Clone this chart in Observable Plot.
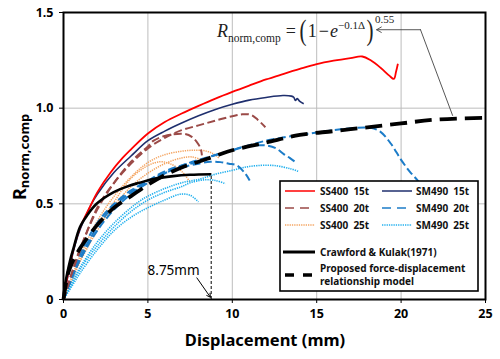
<!DOCTYPE html>
<html><head><meta charset="utf-8">
<script src="https://cdn.jsdelivr.net/npm/d3@7"></script>
<script src="https://cdn.jsdelivr.net/npm/@observablehq/plot@0.6"></script>
<style>
body{margin:0;background:#fff;}
#wrap{position:relative;width:500px;height:359px;}
#formula{position:absolute;left:217px;top:12px;font-family:"Liberation Serif",serif;color:#222;white-space:nowrap;line-height:1;}
#formula span{display:inline-block;}
</style></head><body><div id="wrap"></div>
<script>
// ---- tick values ----
const xTicks = [0, 5, 10, 15, 20, 25];
const yTicks = [0, 0.5, 1.0, 1.5];
const yTickLabels = ["0", "0.5", "1.0", "1.5"];
const xGrid = [5, 10, 15, 20];
const yGrid = [0.5, 1.0];

// ---- test curves [displacement mm, R_norm,comp] ----
const ss400_15t = [[0,0],[0.3,0.15],[0.7,0.3],[1,0.38],[1.6,0.49],[2,0.56],[2.8,0.665],[3.5,0.74],[4,0.785],[5,0.868],[6,0.928],[7,0.972],[8,1.012],[9,1.05],[10,1.085],[11,1.118],[12,1.15],[13,1.178],[14,1.205],[15,1.23],[16,1.248],[17,1.262],[17.7,1.27],[18.2,1.25],[18.8,1.21],[19.3,1.17],[19.57,1.153],[19.7,1.19],[19.81,1.232]];
const sm490_15t = [[0,0],[0.3,0.14],[0.7,0.29],[1,0.37],[1.6,0.49],[2,0.55],[3,0.665],[4,0.75],[5,0.83],[6,0.88],[7,0.922],[8,0.96],[9,0.993],[10,1.02],[11,1.042],[12,1.056],[13,1.066],[13.5,1.063],[13.64,1.057],[13.74,1.04],[13.85,1.05],[14.0,1.035],[14.23,1.023]];
const ss400_20t_a = [[0,0],[0.5,0.14],[1,0.26],[2,0.48],[3,0.61],[4,0.71],[5,0.79],[6,0.845],[7,0.885],[8,0.91],[9,0.935],[10,0.958],[10.6,0.968],[11.1,0.965],[11.5,0.94],[11.96,0.9]];
const ss400_20t_b = [[0,0],[0.5,0.14],[1,0.27],[2,0.47],[3,0.61],[4,0.72],[5,0.8],[5.34,0.83],[6,0.855],[7.1,0.866],[7.6,0.85],[8,0.81],[8.15,0.78],[8.2,0.753]];
const ss400_25t_a = [[0,0],[0.5,0.12],[1,0.23],[2,0.41],[3,0.54],[4,0.64],[4.75,0.7],[5.5,0.74],[6.13,0.76],[7,0.775],[7.7,0.78],[8.5,0.775],[8.9,0.76],[9.2,0.74]];
const ss400_25t_b = [[0,0],[0.5,0.11],[1,0.21],[2,0.38],[3,0.51],[3.96,0.63],[5,0.7],[5.74,0.72],[6.33,0.709],[7,0.67],[7.5,0.613]];
const ss400_25t_c = [[0,0],[0.5,0.1],[1,0.2],[2,0.36],[3,0.49],[4,0.59],[5,0.66],[6,0.71],[7,0.74],[7.6,0.745],[8.2,0.73]];
const sm490_20t_a = [[0,0],[0.5,0.13],[1,0.24],[2,0.4],[3,0.5],[4,0.57],[5,0.62],[6,0.66],[7,0.7],[8,0.73],[10,0.78],[12,0.83],[14,0.86],[16,0.885],[17,0.895],[18.2,0.897],[18.8,0.875],[19.4,0.814],[20,0.73],[20.5,0.67],[21,0.62],[21.4,0.57]];
const sm490_20t_b = [[0,0],[0.5,0.12],[1,0.22],[2,0.38],[3,0.49],[4,0.56],[5,0.62],[6,0.67],[7,0.7],[8,0.72],[9,0.755],[10,0.78],[10.5,0.795],[11,0.803],[12,0.805],[12.6,0.79],[13.05,0.76],[13.4,0.74],[13.74,0.718]];
const sm490_20t_c = [[0,0],[0.5,0.11],[1,0.21],[2,0.36],[3,0.47],[4,0.55],[5,0.61],[6,0.66],[7,0.69],[8,0.71],[8.7,0.72],[9.3,0.718],[9.8,0.71],[10.28,0.7],[10.78,0.657],[11.03,0.622]];
const sm490_25t_a = [[0,0],[0.5,0.09],[1,0.17],[2,0.3],[3,0.4],[4,0.48],[4.56,0.517],[5,0.54],[6,0.58],[7,0.61],[8.1,0.63],[9,0.655],[10,0.675],[10.67,0.69],[11.5,0.7],[12.5,0.7],[13.45,0.683],[13.9,0.67]];
const sm490_25t_b = [[0,0],[0.5,0.08],[1,0.16],[2,0.28],[3,0.38],[4,0.46],[5,0.52],[6,0.56],[7,0.59],[7.5,0.61],[8.3,0.625],[9,0.622],[9.6,0.605]];
const sm490_25t_c = [[0,0],[0.5,0.07],[1,0.14],[2,0.26],[3,0.36],[4,0.43],[5,0.48],[6,0.52],[6.9,0.55],[7.5,0.545],[8.0,0.51]];
const crawfordKulak = [[0,0],[0.1,0.08],[0.38,0.2],[0.6,0.27],[0.97,0.378],[1.4,0.44],[1.96,0.5],[2.95,0.56],[3.94,0.596],[4.5,0.61],[5.32,0.63],[6.5,0.645],[7.5,0.652],[8.75,0.655]];
const proposedModel = [[0,0],[0.25,0.13],[0.5,0.19],[1,0.27],[2,0.39],[3,0.48],[4,0.54],[5,0.6],[6,0.65],[7,0.69],[8,0.72],[9,0.75],[10,0.78],[12,0.82],[14,0.86],[16,0.88],[18,0.9],[20,0.92],[22,0.94],[25,0.95]];

// ---- annotations ----
const limitDisp = [8.75];
const limitLoad = [0.655];
const limitText = ["8.75mm"];
const limitArrow = [[7.9, 0.113, 8.7, 0.012]];
const limitTextPos = [[6.52, 0.152]];
const formulaArrow = [[21.15, 1.41, 18.55, 1.41]];
const formulaLeader = [[21.15, 1.41], [23.05, 0.962]];

// ---- legend labels ----
const legendLeft = ["SS400  15t", "SS400  20t", "SS400  25t"];
const legendRight = ["SM490  15t", "SM490  20t", "SM490  25t"];
const legendBottom = ["Crawford & Kulak(1971)", "Proposed force-displacement", "relationship model"];

// ---- styles ----
const S = {
  red:   {stroke:"#ff0000", strokeWidth:1.8},
  navy:  {stroke:"#1f2f6e", strokeWidth:1.6},
  brown: {stroke:"#9b4a47", strokeWidth:2, strokeDasharray:"8,3.5"},
  orange:{stroke:"#f4a460", strokeWidth:1.5, strokeDasharray:"1.3,1"},
  blue:  {stroke:"#1c7cc8", strokeWidth:2, strokeDasharray:"8,3.5"},
  lblue: {stroke:"#22b0ee", strokeWidth:1.6, strokeDasharray:"1.3,1"},
  black: {stroke:"#000", strokeWidth:2.6},
  bdash: {stroke:"#000", strokeWidth:3.8, strokeDasharray:"17,8"}
};
const groups = [
  [[ss400_25t_a, ss400_25t_b, ss400_25t_c], S.orange],
  [[sm490_25t_a, sm490_25t_b, sm490_25t_c], S.lblue],
  [[sm490_20t_a, sm490_20t_b, sm490_20t_c], S.blue],
  [[ss400_20t_a, ss400_20t_b], S.brown],
  [[sm490_15t], S.navy],
  [[ss400_15t], S.red],
  [[crawfordKulak], S.black],
  [[proposedModel], S.bdash]
];
const lineMarks = [];
for (const [curves, st] of groups) {
  for (const c of curves) {
    lineMarks.push(Plot.line(c, {x: d => d[0], y: d => d[1], curve: "catmull-rom", strokeLinecap: "butt", ...st}));
  }
}

const FONT = '"Noto Sans", sans-serif';
const plot = Plot.plot({
  width: 500, height: 359,
  marginTop: 12, marginRight: 15, marginBottom: 60, marginLeft: 63,
  x: {domain: [0, 25]},
  y: {domain: [0, 1.5]},
  style: {fontFamily: FONT, fontSize: "12.5px", fontWeight: "bold", color: "#000", background: "#fff"},
  marks: [
    Plot.ruleX(xGrid, {stroke: "#bdbdbd", strokeWidth: 1}),
    Plot.ruleY(yGrid, {stroke: "#bdbdbd", strokeWidth: 1}),
    ...lineMarks,
    Plot.ruleX(limitDisp, {x: d => d, y1: 0, y2: limitLoad[0], stroke: "#000", strokeWidth: 1, strokeDasharray: "3,2"}),
    Plot.arrow(limitArrow, {x1: d => d[0], y1: d => d[1], x2: d => d[2], y2: d => d[3], stroke: "#000", strokeWidth: 1, headLength: 6}),
    Plot.text(limitText, {x: () => limitTextPos[0][0], y: () => limitTextPos[0][1], text: d => d, fontSize: 13.5, fontWeight: "normal", fill: "#000"}),
    Plot.line(formulaLeader, {x: d => d[0], y: d => d[1], stroke: "#444", strokeWidth: 0.9}),
    Plot.arrow(formulaArrow, {x1: d => d[0], y1: d => d[1], x2: d => d[2], y2: d => d[3], stroke: "#444", strokeWidth: 0.9, headLength: 9}),
    Plot.frame({stroke: "#000", strokeWidth: 2}),
    Plot.axisX(xTicks, {tickSize: 4, tickPadding: 6, label: null, fontWeight: "bold"}),
    Plot.axisY(yTicks, {tickSize: 4, tickPadding: 6, label: null, tickFormat: (d, i) => yTickLabels[yTicks.indexOf(d)], fontWeight: "bold"})
  ]
});

const svg = d3.select(plot);
// axis titles
svg.append("text").attr("x", 265).attr("y", 346).attr("text-anchor", "middle")
  .attr("font-family", FONT).attr("font-weight", "bold").attr("font-size", 16.5).attr("fill", "#000").text("Displacement (mm)");
const yl = svg.append("text").attr("transform", "translate(26,200) rotate(-90)").attr("text-anchor", "start")
  .attr("font-family", FONT).attr("font-weight", "bold").attr("fill", "#000");
yl.append("tspan").attr("font-size", 18).text("R");
yl.append("tspan").attr("font-size", 13).attr("dy", 3).text("norm,comp");

// legend
const lg = svg.append("g").attr("text-anchor", "start");
lg.append("rect").attr("x", 280).attr("y", 181).attr("width", 198).attr("height", 110)
  .attr("fill", "#fff").attr("stroke", "#000").attr("stroke-width", 1.6);
const rowsY = [191, 208, 225];
const leftStyles = [S.red, S.brown, S.orange];
const rightStyles = [S.navy, S.blue, S.lblue];
function swatch(x1, x2, y, st, w, dash) {
  lg.append("line").attr("x1", x1).attr("x2", x2).attr("y1", y).attr("y2", y)
    .attr("stroke", st.stroke).attr("stroke-width", w ?? st.strokeWidth)
    .attr("stroke-dasharray", dash);
}
function ltext(x, y, t) {
  lg.append("text").attr("x", x).attr("y", y + 3.6).attr("text-anchor", "start").attr("font-family", FONT)
    .attr("font-weight", "bold").attr("font-size", 10).attr("fill", "#111")
    .style("white-space", "pre").text(t);
}
const swDash = [null, "9,6", "1.3,1"];
legendLeft.forEach((t, i) => {
  swatch(285, 315, rowsY[i], leftStyles[i], 1.5, swDash[i]);
  ltext(320, rowsY[i], t);
});
legendRight.forEach((t, i) => {
  swatch(382, 412, rowsY[i], rightStyles[i], 1.5, swDash[i]);
  ltext(416, rowsY[i], t);
});
swatch(283, 315, 252, S.black, 3, null);
ltext(320, 252, legendBottom[0]);
swatch(285, 312, 275, S.bdash, 3.5, "9,9");
ltext(320, 268.5, legendBottom[1]);
ltext(320, 281, legendBottom[2]);

const wrap = document.getElementById("wrap");
wrap.appendChild(plot);

// formula annotation
const f = document.createElement("div");
f.id = "formula";
f.innerHTML =
  '<span style="font-size:18px;font-style:italic">R</span>' +
  '<span style="font-size:11.5px;position:relative;top:5px">norm,comp</span>' +
  '<span style="font-size:18px;margin-left:5px">=</span>' +
  '<span style="font-size:30px;position:relative;top:3px;margin-left:2px;transform:scaleX(0.7)">(</span>' +
  '<span style="font-size:18px">1</span>' +
  '<span style="font-size:18px;margin-left:2px;margin-right:1px">\u2212</span>' +
  '<span style="font-size:18px;font-style:italic">e</span>' +
  '<span style="font-size:11px;position:relative;top:-8px">\u22120.1\u0394</span>' +
  '<span style="font-size:30px;position:relative;top:3px;transform:scaleX(0.7)">)</span>' +
  '<span style="font-size:11px;position:relative;top:-14px">0.55</span>';
wrap.appendChild(f);
</script>
</body></html>
